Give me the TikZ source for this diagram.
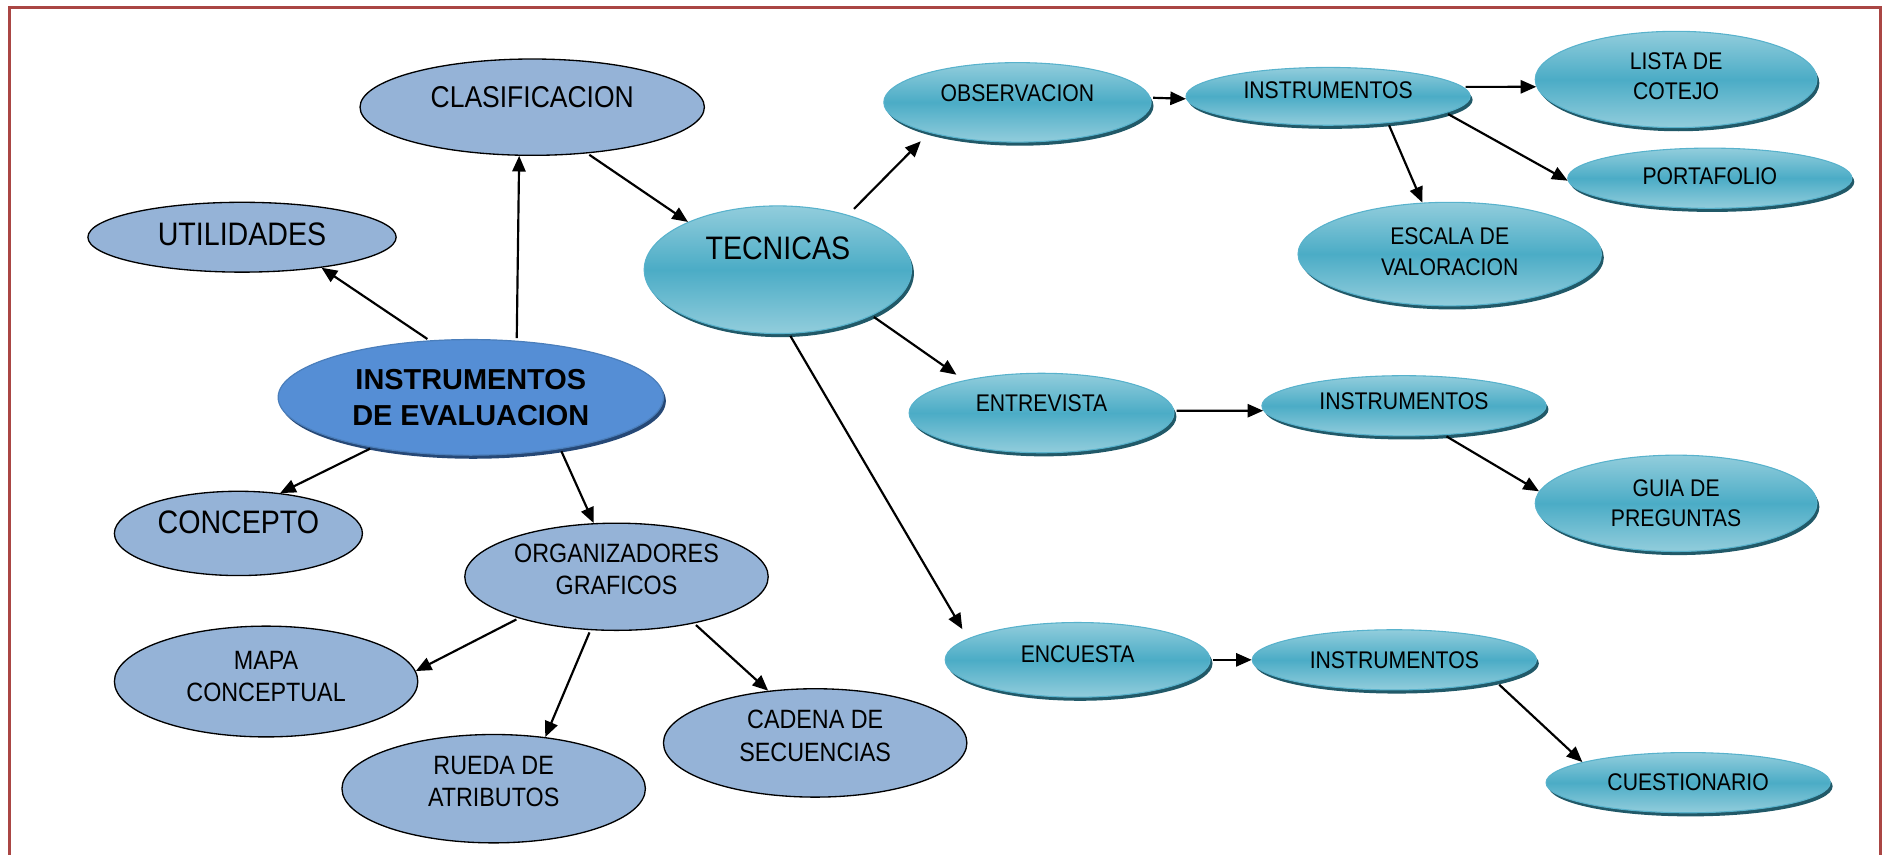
\documentclass[tikz,border=0pt]{standalone}
\usepackage{fontspec}
\setmainfont{Liberation Sans}[FakeStretch=0.88]
\newfontfamily\iefont{Liberation Sans}
\usetikzlibrary{shapes.geometric,arrows.meta,shadows}
\definecolor{lbfill}{RGB}{149,179,215}
\definecolor{ieblue}{RGB}{85,142,213}
\definecolor{ieedge}{RGB}{74,126,187}
\definecolor{ieshadow}{RGB}{38,72,118}
\definecolor{tealtop}{RGB}{146,205,220}
\definecolor{tealmid}{RGB}{75,172,198}
\definecolor{tealedge}{RGB}{88,178,204}
\definecolor{tealdark}{RGB}{33,89,104}
\definecolor{framered}{RGB}{170,70,68}
\tikzset{
  lb/.style={ellipse, draw=black, line width=1.1pt, fill=lbfill, inner sep=0pt},
  tl/.style={ellipse, draw=tealedge, line width=0.9pt, top color=tealtop, bottom color=tealtop, middle color=tealmid, inner sep=0pt,
    drop shadow={shadow xshift=2pt, shadow yshift=-3pt, fill=tealdark, opacity=1}},
  iestyle/.style={ellipse, draw=ieedge, line width=1pt, fill=ieblue, inner sep=0pt,
    drop shadow={shadow xshift=2pt, shadow yshift=-3pt, fill=ieshadow, opacity=1}},
  lt/.style={align=center, inner sep=0pt, text=black},
  fa/.style={font=\fontsize{27pt}{32pt}\selectfont},
  fb/.style={font=\fontsize{22pt}{27pt}\selectfont},
  fc/.style={font=\fontsize{20pt}{25pt}\selectfont},
  arr/.style={-{Triangle[length=13pt,width=11pt]}, line width=1.8pt, shorten <=2pt}
}
\begin{document}
\begin{tikzpicture}[x=1pt,y=-1pt]
\useasboundingbox (0,0) rectangle (1568,710);
\draw[framered, line width=2.5pt] (8,720) -- (8,6) -- (1562,6) -- (1562,720);

% left, light blue
\node[lb, minimum width=286pt, minimum height=80pt, label={[lt, font=\fontsize{25pt}{30pt}\selectfont, yshift=8pt]center:CLASIFICACION}] (clas) at (442,89) {};
\node[lb, minimum width=256pt, minimum height=58pt, label={[lt, fa, yshift=2pt]center:UTILIDADES}] (util) at (201,197) {};
\node[lb, minimum width=206pt, minimum height=70pt, label={[lt, fa, yshift=9pt]center:CONCEPTO}] (conc) at (198,443) {};
\node[lb, minimum width=252pt, minimum height=89pt, label={[lt, fb, yshift=6pt]center:{ORGANIZADORES\\GRAFICOS}}] (org) at (512,479) {};
\node[lb, minimum width=252pt, minimum height=92pt, label={[lt, fb, yshift=4pt]center:{MAPA\\CONCEPTUAL}}] (mapa) at (221,566) {};
\node[lb, minimum width=252pt, minimum height=90pt, label={[lt, fb, yshift=6pt]center:{RUEDA DE\\ATRIBUTOS}}] (rueda) at (410,655) {};
\node[lb, minimum width=252pt, minimum height=90pt, label={[lt, fb, yshift=6pt]center:{CADENA DE\\SECUENCIAS}}] (cadena) at (677,617) {};

% main node
\node[iestyle, minimum width=320pt, minimum height=96pt, label={[lt, font=\iefont\bfseries\fontsize{24pt}{30pt}\selectfont, yshift=0pt]center:{INSTRUMENTOS\\DE EVALUACION}}] (ie) at (391,330) {};

% teal nodes
\node[tl, minimum width=222pt, minimum height=106pt, label={[lt, fa, yshift=18pt]center:TECNICAS}] (tec) at (646,224) {};
\node[tl, minimum width=222pt, minimum height=66pt, label={[lt, fc, yshift=8pt]center:OBSERVACION}] (obs) at (845,85) {};
\node[tl, minimum width=236pt, minimum height=48pt, label={[lt, fc, yshift=5pt]center:INSTRUMENTOS}] (i1) at (1103,80) {};
\node[tl, minimum width=234pt, minimum height=80pt, label={[lt, fc, yshift=3pt]center:{LISTA DE\\COTEJO}}] (lista) at (1392,66) {};
\node[tl, minimum width=236pt, minimum height=50pt, label={[lt, fc, yshift=2pt]center:PORTAFOLIO}] (port) at (1420,148) {};
\node[tl, minimum width=252pt, minimum height=86pt, label={[lt, fc, yshift=2pt]center:{ESCALA DE\\VALORACION}}] (escala) at (1204,211) {};
\node[tl, minimum width=220pt, minimum height=66pt, label={[lt, fc, yshift=8pt]center:ENTREVISTA}] (entr) at (865,343) {};
\node[tl, minimum width=236pt, minimum height=50pt, label={[lt, fc, yshift=4pt]center:INSTRUMENTOS}] (i2) at (1166,337) {};
\node[tl, minimum width=234pt, minimum height=80pt, label={[lt, fc, yshift=0pt]center:{GUIA DE\\PREGUNTAS}}] (guia) at (1392,418) {};
\node[tl, minimum width=220pt, minimum height=62pt, label={[lt, fc, yshift=5pt]center:ENCUESTA}] (enc) at (895,548) {};
\node[tl, minimum width=236pt, minimum height=50pt, label={[lt, fc, yshift=0pt]center:INSTRUMENTOS}] (i3) at (1158,548) {};
\node[tl, minimum width=236pt, minimum height=50pt, label={[lt, fc, yshift=0pt]center:CUESTIONARIO}] (cuest) at (1402,650) {};

% connectors
\draw[arr] (ie.126) -- (util.-21);
\draw[arr] (ie.51) -- (clas.255);
\draw[arr] (ie.207) -- (conc.44);
\draw[arr] (ie.-30) -- (org.113);
\draw[arr] (clas.-40) -- (tec.152);
\draw[arr, shorten <=7pt, shorten >=10pt] (tec.38) -- (obs.199);
\draw[arr, shorten >=8pt] (tec.-26) -- (entr.157);
\draw[arr, shorten >=9pt] (tec.-80) -- (enc.169);
\draw[arr] (obs.2) -- (i1.181);
\draw[arr] (i1.4) -- (lista.183);
\draw[arr] (i1.-24) -- (escala.118);
\draw[arr] (i1.-8) -- (port.181);
\draw[arr] (entr.1) -- (i2.182);
\draw[arr] (i2.-36) -- (guia.175);
\draw[arr] (enc.0) -- (i3.180);
\draw[arr, shorten <=4pt] (i3.-12) -- (cuest.169);
\draw[arr] (org.203) -- (mapa.4);
\draw[arr] (org.244) -- (rueda.45);
\draw[arr] (org.-31) -- (cadena.132);
\end{tikzpicture}
\end{document}
